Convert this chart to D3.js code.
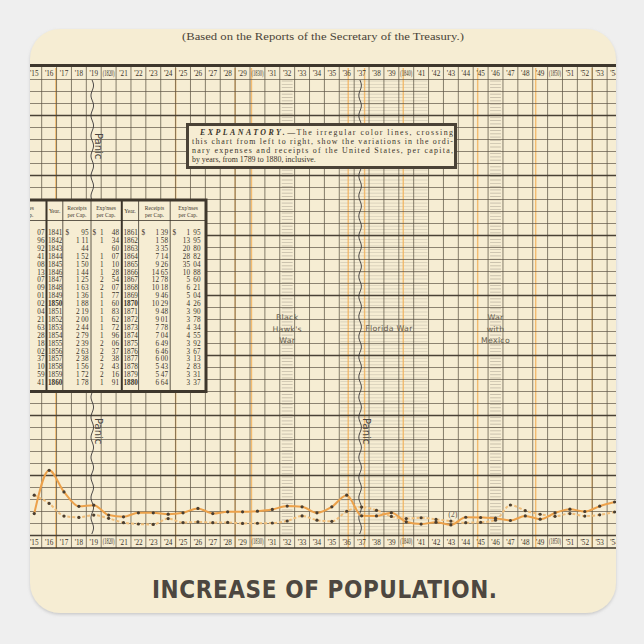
<!DOCTYPE html>
<html><head><meta charset="utf-8">
<script src="https://cdn.jsdelivr.net/npm/d3@7"></script>
<style>body{margin:0;background:#efefef}svg{display:block}</style>
</head><body><svg id="c" width="644" height="644"></svg>
<script>
// ---------------- DATA ----------------
const years = d3.range(1815, 1855);
const tickLabels = ["'15","'16","'17","'18","'19","(1820)","'21","'22","'23","'24","'25","'26","'27","'28","'29","(1830)","'31","'32","'33","'34","'35","'36","'37","'38","'39","(1840)","'41","'42","'43","'44","'45","'46","'47","'48","'49","(1850)","'51","'52","'53","'54"];
// per-capita receipts (solid line) and ordinary expenses (dotted line), dollars
const receipts = [1.83,5.43,3.63,2.43,2.53,1.70,1.56,1.89,1.89,1.78,1.89,2.26,1.83,1.97,1.97,2.03,2.17,2.45,2.39,1.89,2.39,3.36,1.64,1.63,1.90,1.14,0.95,1.11,0.88,1.52,1.50,1.44,1.25,1.63,1.36,1.88,2.19,2.00,2.44,2.79];
const expenses = [3.36,2.67,1.62,1.51,1.70,1.43,1.07,0.96,0.92,1.41,1.08,1.13,1.07,1.09,1.01,1.02,1.04,1.21,1.63,1.28,1.18,2.02,2.37,2.10,1.59,1.41,1.48,1.34,1.20,1.07,1.10,1.28,2.54,2.07,1.77,1.60,1.83,1.62,1.72,1.96];
// table
const tYearsA = d3.range(1841, 1861);
const tRecA = [0.95,1.11,0.44,1.52,1.50,1.44,1.25,1.63,1.36,1.88,2.19,2.00,2.44,2.79,2.39,2.63,2.38,1.56,1.72,1.78];
const tExpA = [1.48,1.34,0.60,1.07,1.10,1.28,2.54,2.07,1.77,1.60,1.83,1.62,1.72,1.96,2.06,2.37,2.38,2.43,2.16,1.91];
const tYearsB = d3.range(1861, 1881);
const tRecB = [1.39,1.58,3.35,7.14,9.26,14.65,12.78,10.18,9.46,10.29,9.48,9.01,7.78,7.04,6.49,6.46,6.00,5.43,5.47,6.64];
const tExpB = [1.95,13.95,20.80,28.82,35.04,10.88,5.60,6.21,5.04,4.26,3.90,3.78,4.34,4.55,3.92,3.67,3.13,2.83,3.31,3.37];
const tExpPrev = [1.07,0.96,0.92,1.41,1.08,1.13,1.07,1.09,1.01,1.02,1.04,1.21,1.63,1.28,1.18,2.02,2.37,2.10,1.59,1.41];
const wars = [{name:["Black","Hawk's","War"], from:1832, to:1832},{name:["Florida War"], from:1836, to:1841},{name:["War","with","Mexico"], from:1846, to:1846}];
const panics = [1819, 1837];
const orangeX = [1816.95,1825.0,1829.0,1830.1,1836.6,1837.7,1840.3,1845.3,1849.2,1853.0];
const explanatory = ["this chart from left to right, show the variations in the ordi-","nary expenses and receipts of  the United States, per capita,","by years, from 1789 to 1880, inclusive."];

// ---------------- DRAW ----------------
const svg = d3.select("#c");
const defs = svg.append("defs");
defs.append("clipPath").attr("id","stk").append("rect")
  .attr("x",30).attr("y",29).attr("width",586).attr("height",584).attr("rx",30);
const f = defs.append("filter").attr("id","sh").attr("x","-5%").attr("y","-5%").attr("width","110%").attr("height","110%");
f.append("feDropShadow").attr("dx",0).attr("dy",1.5).attr("stdDeviation",1.5).attr("flood-color","#999").attr("flood-opacity",0.45);

svg.append("rect").attr("x",30).attr("y",29).attr("width",586).attr("height",584).attr("rx",30)
  .attr("fill","#f6edd3").attr("filter","url(#sh)");

const g = svg.append("g").attr("clip-path","url(#stk)");

const x0 = 26.8, colW = 14.88;
const x = d3.scaleBand().domain(years).range([x0, x0 + years.length*colW]).padding(0);
const cx = yr => x(yr) + x.bandwidth()/2;
const y = d3.scaleLinear().domain([0, 38]).range([535.5, 79.5]);
const right = x0 + years.length*colW;
const ink = "#3b342a";
const gridBottom = 548;

// hatched war bands
wars.forEach(w => {
  const xa = x(w.from), xb = x(w.to) + colW;
  const wide = w.to > w.from;
  const hg = g.append("g");
  d3.range(81, 535, 3.3).forEach(yy => {
    hg.append("line").attr("x1", xa + (wide?1:2)).attr("x2", xb - (wide?1:2)).attr("y1",yy).attr("y2",yy)
      .attr("stroke", wide ? "#aaa293" : "#9c9484").attr("stroke-width",0.6).attr("opacity", wide?0.6:0.8);
  });
});

// orange vertical lines
g.selectAll(".orv").data(orangeX).join("line")
  .attr("x1",d=>x0+(d-1815)*colW).attr("x2",d=>x0+(d-1815)*colW)
  .attr("y1",68).attr("y2",gridBottom).attr("stroke","#f2b35e").attr("stroke-width",1.4).attr("opacity",0.85);

// vertical grid
g.selectAll(".vg").data(d3.range(0, years.length+1)).join("line")
  .attr("x1",i=>x0+i*colW).attr("x2",i=>x0+i*colW).attr("y1",66).attr("y2",gridBottom)
  .attr("stroke","#5e5546").attr("stroke-width",0.75);

// horizontal grid
g.selectAll(".hg").data(d3.range(0, 39)).join("line")
  .attr("x1",x0).attr("x2",right).attr("y1",k=>y(k)).attr("y2",k=>y(k))
  .attr("stroke",k=> (k%5===0) ? "#4a4236" : "#5e5546")
  .attr("stroke-width",k=> (k%5===0) ? 1.7 : 0.7);

// top and bottom borders
g.append("line").attr("x1",x0).attr("x2",right).attr("y1",65.5).attr("y2",65.5).attr("stroke","#3e372c").attr("stroke-width",3);
g.append("line").attr("x1",x0).attr("x2",right).attr("y1",gridBottom).attr("y2",gridBottom).attr("stroke","#3e372c").attr("stroke-width",1.6);

// axes (year labels top and bottom)
const axTop = d3.axisTop(x).tickSize(0).tickFormat((d,i)=>tickLabels[i]);
const axBot = d3.axisBottom(x).tickSize(0).tickFormat((d,i)=>tickLabels[i]);
[["t", 76, axTop],["b", 535.5, axBot]].forEach(([k, yy, ax]) => {
  const a = g.append("g").attr("transform", `translate(0,${yy})`).call(ax);
  a.select(".domain").remove();
  a.selectAll("text").attr("font-family","Liberation Serif, serif").attr("font-size",7.2).attr("fill",ink)
    .attr("y", k==="t" ? 0 : 9).attr("dy", 0)
    .each(function(d,i){ if (tickLabels[i].startsWith("(")) d3.select(this).attr("transform","scale(0.62,1)"); });
});

// war labels
wars.forEach(w => {
  const cxm = (x(w.from) + x(w.to) + colW)/2;
  const y0 = w.name.length === 1 ? 331 : 320;
  w.name.forEach((t,i) => {
    g.append("text").attr("x", cxm + (w.name.length===1? 5:0)).attr("y", y0 + i*11.5).attr("text-anchor","middle")
      .attr("font-family","DejaVu Sans, sans-serif").attr("font-size",7.8).attr("fill","#665d4e")
      .attr("letter-spacing",0.3).text(t);
  });
});

// panic wavy lines
panics.forEach((p, pi) => {
  const px = cx(p) - 1.5;
  const pts = d3.range(80, 536, 2).map(yy => [px + 1.3*Math.sin(yy/3.2), yy]);
  g.append("path").attr("d", d3.line()(pts)).attr("fill","none").attr("stroke","#3d3a3a").attr("stroke-width",0.9);
  const labs = pi === 0 ? [133, 418] : [418];
  labs.forEach(ly => {
    g.append("text").attr("transform",`translate(${px+3},${ly}) rotate(90)`)
      .attr("font-family","DejaVu Sans, sans-serif").attr("font-size",10).attr("fill","#4a4540").text("Panic");
  });
});

// series lines
const ptsR = years.map((yr,i)=>({yr, v:receipts[i]}));
const ptsE = years.map((yr,i)=>({yr, v:expenses[i]}));
const ln = d3.line().x(d=>cx(d.yr)).y(d=>y(d.v)).curve(d3.curveMonotoneX);
g.append("path").datum(ptsE).attr("d",ln).attr("fill","none").attr("stroke","#f0be7a").attr("stroke-width",2)
  .attr("stroke-dasharray","3,2");
g.append("path").datum(ptsR).attr("d",ln).attr("fill","none").attr("stroke","#eca14a").attr("stroke-width",2);
[ptsR, ptsE].forEach(pts => {
  g.selectAll(null).data(pts).join("circle").attr("cx",d=>cx(d.yr)).attr("cy",d=>y(d.v)).attr("r",1.6).attr("fill","#4a3e30");
});
g.append("text").attr("x", cx(1843)+2).attr("y", 517).attr("text-anchor","middle").attr("font-family","Liberation Serif, serif")
  .attr("font-size",8).attr("fill","#6b6253").text("(2)");

// explanatory box
g.append("rect").attr("x",187.5).attr("y",124.5).attr("width",268).attr("height",43).attr("fill","#f6edd3")
  .attr("stroke","#4a4236").attr("stroke-width",3);
const ex = g.append("text").attr("x",200).attr("y",135).attr("font-family","Liberation Serif, serif").attr("font-size",7.9).attr("fill",ink)
  .attr("textLength",253).attr("lengthAdjust","spacing");
ex.append("tspan").attr("font-weight","bold").attr("font-style","italic").attr("letter-spacing",1).text("EXPLANATORY.");
ex.append("tspan").text("—The irregular color lines, crossing");
explanatory.forEach((t,i) => {
  const tt = g.append("text").attr("x",192).attr("y",144 + i*9).attr("font-family","Liberation Serif, serif")
    .attr("font-size",7.9).attr("fill",ink).text(t);
  if (i < 2) tt.attr("textLength",261).attr("lengthAdjust","spacing");
});

// table
const tb = g.append("g");
tb.append("rect").attr("x",20).attr("y",200).attr("width",186).attr("height",191).attr("fill","#f6edd3");
const rowY = i => 235 + i*7.9;
const fmt = v => { const d = Math.floor(v + 1e-9); const c = Math.round((v - d)*100); return [d>0? String(d):"", String(c).padStart(2,"0")]; };
const tfont = s => s.attr("font-family","Liberation Serif, serif").attr("font-size",7.2).attr("fill",ink);
const hdr = [
  {x:24, lines:["Exp'nses","per Cap."]},
  {x:54.6, lines:["Year."]},
  {x:77, lines:["Receipts","per Cap."]},
  {x:106, lines:["Exp'nses","per Cap."]},
  {x:130, lines:["Year."]},
  {x:154.5, lines:["Receipts","per Cap."]},
  {x:188, lines:["Exp'nses","per Cap."]}
];
hdr.forEach(h => h.lines.forEach((t,i)=> {
  tb.append("text").attr("x",h.x).attr("y", h.lines.length===1 ? 213 : 210 + i*6.5).attr("text-anchor","middle")
    .attr("font-family","Liberation Serif, serif").attr("font-size",5.6).attr("fill",ink).text(t);
}));
tb.append("line").attr("x1",20).attr("x2",206).attr("y1",220.5).attr("y2",220.5).attr("stroke",ink).attr("stroke-width",0.8);
function moneyCol(vals, xDollarSign, xDol, xCent){
  vals.forEach((v,i)=>{
    const [d,c] = fmt(v);
    if (i===0 && xDollarSign) tfont(tb.append("text").attr("x",xDollarSign).attr("y",rowY(i)).text("$"));
    tfont(tb.append("text").attr("x",xDol).attr("y",rowY(i)).attr("text-anchor","end").text(d));
    tfont(tb.append("text").attr("x",xCent).attr("y",rowY(i)).attr("text-anchor","end").text(c));
  });
}
moneyCol(tExpPrev, null, 27, 44.5);
tYearsA.forEach((yr,i)=> tfont(tb.append("text").attr("x",48).attr("y",rowY(i)).attr("font-weight", yr%10===0?"bold":"normal").text(yr)));
moneyCol(tRecA, 65.5, 79.5, 88.5);
moneyCol(tExpA, 92.5, 103.5, 119);
tYearsB.forEach((yr,i)=> tfont(tb.append("text").attr("x",123.5).attr("y",rowY(i)).attr("font-weight", yr%10===0?"bold":"normal").text(yr)));
moneyCol(tRecB, 141.5, 159, 168);
moneyCol(tExpB, 172.5, 190, 200.5);
[[46.5,2],[62.8,0.8],[91,0.8],[121.8,2],[138.6,0.8],[170.2,0.8]].forEach(([xx,w])=>{
  tb.append("line").attr("x1",xx).attr("x2",xx).attr("y1",200).attr("y2",391).attr("stroke",ink).attr("stroke-width",w);
});
tb.append("path").attr("d","M20,200 H206 V391.5 H20").attr("fill","none").attr("stroke","#3e372c").attr("stroke-width",3);

// titles
svg.append("text").attr("x",323).attr("y",40).attr("text-anchor","middle").attr("font-family","Liberation Serif, serif")
  .attr("font-size",10.2).attr("fill","#4a4438").attr("textLength",282).attr("lengthAdjust","spacingAndGlyphs")
  .text("(Based on the Reports of the Secretary of the Treasury.)");
svg.append("text").attr("x",324.5).attr("y",598).attr("text-anchor","middle").attr("font-family","DejaVu Sans Condensed, DejaVu Sans, sans-serif")
  .attr("font-stretch","condensed").attr("font-weight","bold").attr("font-size",24).attr("fill","#4d4740")
  .attr("textLength",345).attr("lengthAdjust","spacing")
  .text("INCREASE OF POPULATION.");
</script></body></html>
